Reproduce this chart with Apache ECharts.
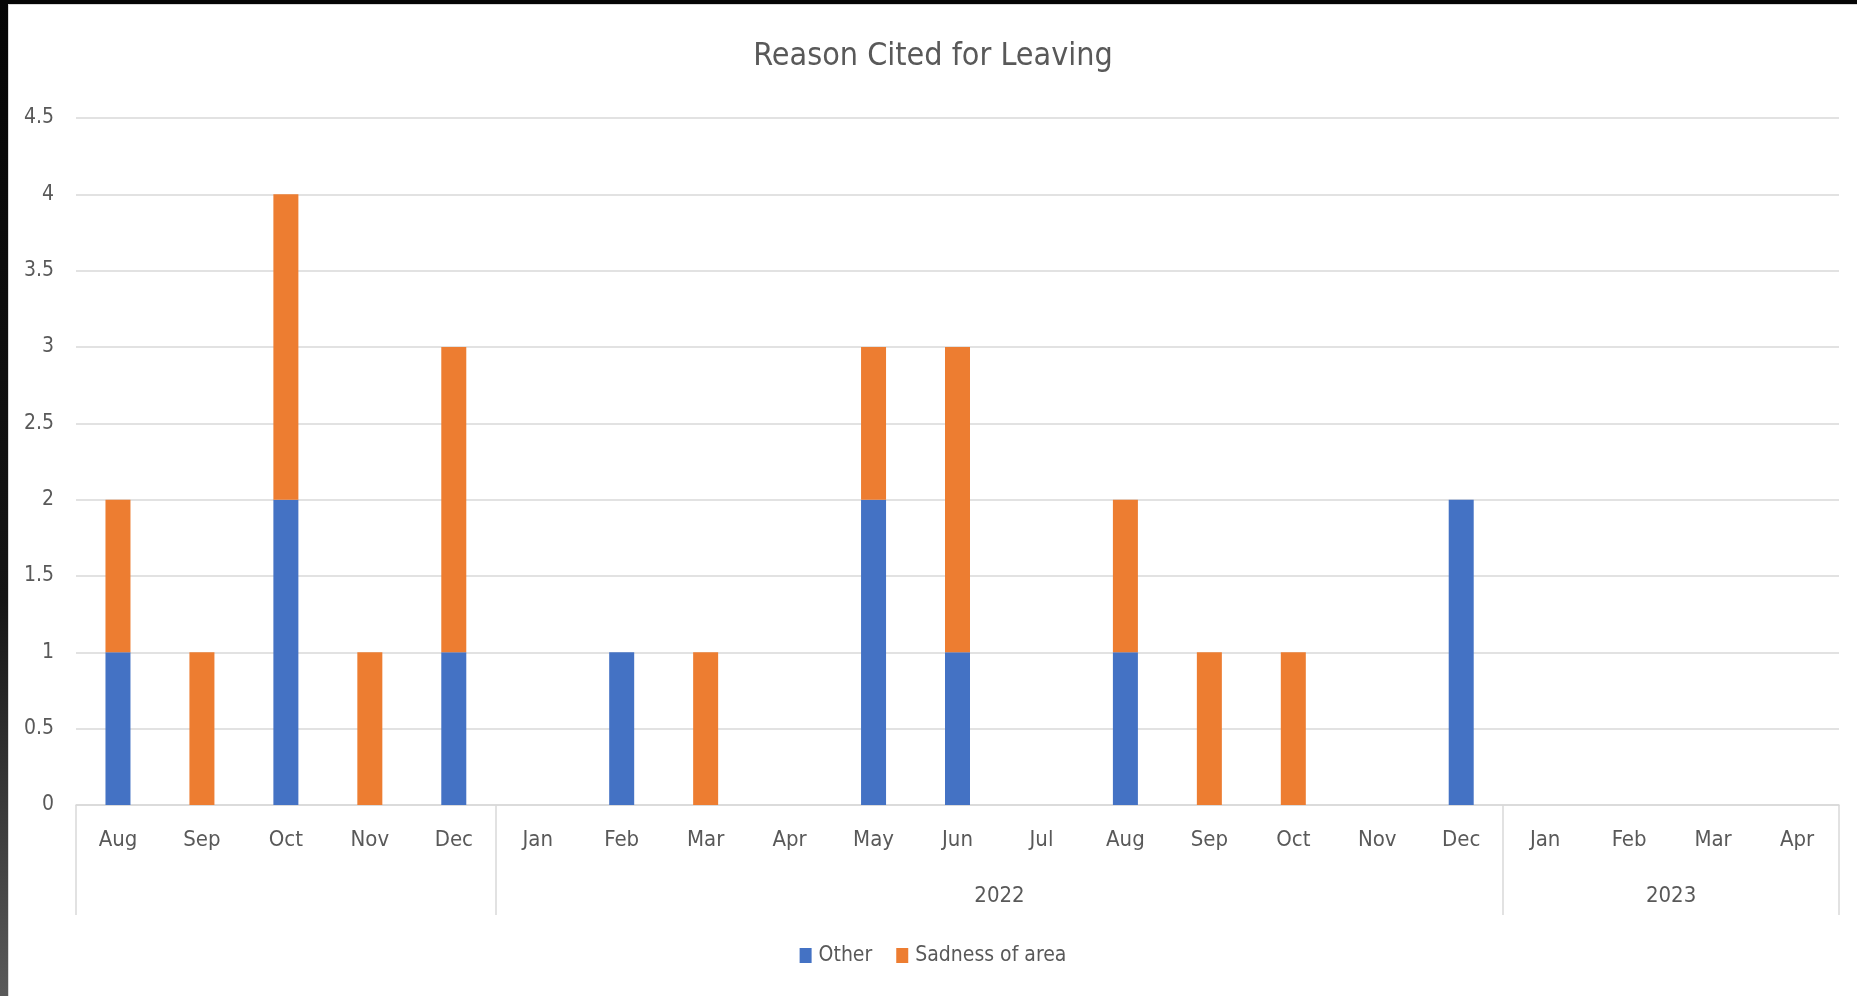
<!DOCTYPE html>
<html>
<head>
<meta charset="utf-8">
<script src="https://cdn.jsdelivr.net/npm/echarts@6/dist/echarts.min.js"></script>
<style>
  html, body { margin: 0; padding: 0; width: 1857px; height: 996px; overflow: hidden;
    background: linear-gradient(to bottom, #050505 0%, #151515 60%, #5a5a5a 100%); }
  #chart { position: absolute; left: 8px; top: 4px; width: 1849px; height: 992px;
    background: #fff; box-sizing: border-box; border-left: 1px solid #d9d9d9; border-top: 1px solid #d9d9d9; }
</style>
</head>
<body>
<div id="chart"></div>
<script>
// Months from Aug 2021 to Apr 2023
const months = ['Aug','Sep','Oct','Nov','Dec',
  'Jan','Feb','Mar','Apr','May','Jun','Jul','Aug','Sep','Oct','Nov','Dec',
  'Jan','Feb','Mar','Apr'];
// Year groups along the axis (first group carries no label)
const yearLabels = ['', '2022', '2023'];
const yearSizes = [5, 12, 4];

const other   = [1,0,2,0,1, 0,1,0,0,2,1,0,1,0,0,0,2, 0,0,0,0];
const sadness = [1,1,2,1,2, 0,0,1,0,1,2,0,1,1,1,0,0, 0,0,0,0];

const yTicks = [0, 0.5, 1, 1.5, 2, 2.5, 3, 3.5, 4, 4.5];

// group boundaries and centres, in category units
const bounds = [0];
yearSizes.forEach(n => bounds.push(bounds[bounds.length - 1] + n));
const centres = yearSizes.map((n, i) => bounds[i] + n / 2);
const centreLabel = {};
centres.forEach((c, i) => { centreLabel[c] = yearLabels[i]; });

const FONT = '"Liberation Sans Narrow", "DejaVu Sans Condensed", "Roboto", sans-serif';
const TXT = '#595959';
const GRID = '#d9d9d9';

const chart = echarts.init(document.getElementById('chart'));
chart.setOption({
  animation: false,
  textStyle: { fontFamily: FONT },
  title: {
    text: 'Reason Cited for Leaving',
    left: 'center', top: 31,
    textStyle: { fontFamily: FONT, fontSize: 32, fontWeight: 'normal', color: TXT }
  },
  legend: {
    data: ['Other', 'Sadness of area'],
    bottom: 25, left: 'center',
    itemWidth: 12, itemHeight: 15, itemGap: 24,
    icon: 'rect',
    textStyle: { fontFamily: FONT, fontSize: 21, color: TXT, padding: [0, 0, 0, 2] }
  },
  grid: { left: 67, right: 18, top: 113, bottom: 191 },
  xAxis: [
    {
      type: 'category', data: months, boundaryGap: true,
      axisLine: { lineStyle: { color: GRID, width: 1.5 } },
      axisTick: { show: false },
      axisLabel: { color: TXT, fontSize: 22, margin: 24, interval: 0, fontFamily: FONT }
    },
    {
      type: 'value', min: 0, max: months.length, position: 'bottom',
      axisLine: { show: false },
      splitLine: { show: false },
      axisTick: { show: true, customValues: bounds, length: 110, inside: false,
        lineStyle: { color: GRID, width: 1.5 } },
      axisLabel: { show: true, customValues: centres, margin: 80, color: TXT, fontSize: 22,
        fontFamily: FONT, formatter: v => centreLabel[v] || '' }
    }
  ],
  yAxis: {
    type: 'value', min: yTicks[0], max: yTicks[yTicks.length - 1], interval: 0.5,
    axisLine: { show: false }, axisTick: { show: false },
    splitLine: { lineStyle: { color: GRID, width: 1.5 } },
    axisLabel: { color: TXT, fontSize: 21, margin: 22, fontFamily: FONT }
  },
  series: [
    { name: 'Other', type: 'bar', stack: 'total', data: other, barWidth: 25,
      itemStyle: { color: '#4472c4' } },
    { name: 'Sadness of area', type: 'bar', stack: 'total', data: sadness, barWidth: 25,
      itemStyle: { color: '#ed7d31' } }
  ]
});
</script>
</body>
</html>
